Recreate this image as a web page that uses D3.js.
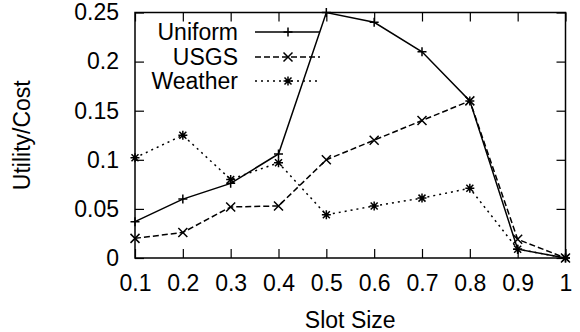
<!DOCTYPE html>
<html lang="en">
<head>
    <title>Utility/Cost vs Slot Size</title>
    <script src="https://d3js.org/d3.v7.min.js"></script>
    <style>
        body { margin: 0; background: white; }
        svg text { font-family: "Liberation Sans", Arial, sans-serif; fill: black; }
    </style>
</head>
<body>
    <svg id="chart"></svg>

    <script>
        var slotSizes = [0.1, 0.2, 0.3, 0.4, 0.5, 0.6, 0.7, 0.8, 0.9, 1];
        var uniform = [0.037, 0.06, 0.076, 0.106, 0.25, 0.24, 0.21, 0.16, 0.009, 0];
        var usgs = [0.02, 0.026, 0.052, 0.053, 0.1, 0.12, 0.14, 0.16, 0.019, 0];
        var weather = [0.102, 0.125, 0.08, 0.097, 0.044, 0.053, 0.061, 0.071, 0.009, 0];
        var xTicks = [0.1, 0.2, 0.3, 0.4, 0.5, 0.6, 0.7, 0.8, 0.9, 1];
        var yTicks = [0, 0.05, 0.1, 0.15, 0.2, 0.25];

        var width = 580, height = 332;
        var margins = { left: 135, top: 12.5, right: 14.5, bottom: 74 };
        var innerW = width - margins.left - margins.right;
        var innerH = height - margins.top - margins.bottom;
        var fontSize = 23;

        var series = [
            { name: "Uniform", values: uniform, dash: null, marker: "plus" },
            { name: "USGS", values: usgs, dash: "6,3", marker: "cross" },
            { name: "Weather", values: weather, dash: "2,4", marker: "star" }
        ];

        var xscale = d3.scaleLinear().domain([0.1, 1]).range([0, innerW]);
        var yscale = d3.scaleLinear().domain([0, 0.25]).range([innerH, 0]);

        var svg = d3.select("#chart")
            .attr("width", width)
            .attr("height", height);

        var g = svg.append("g")
            .attr("transform", "translate(" + margins.left + "," + margins.top + ")");

        // axes, ticks pointing inwards, mirrored on top and right
        var tickLen = 9;
        var axBottom = g.append("g")
            .attr("transform", "translate(0," + innerH + ")")
            .call(d3.axisBottom(xscale).tickValues(xTicks).tickSize(-tickLen).tickPadding(17)
                .tickFormat(d3.format("")));
        var axTop = g.append("g")
            .call(d3.axisTop(xscale).tickValues(xTicks).tickSize(-tickLen).tickFormat(""));
        var axLeft = g.append("g")
            .call(d3.axisLeft(yscale).tickValues(yTicks).tickSize(-tickLen).tickPadding(16)
                .tickFormat(d3.format("")));
        var axRight = g.append("g")
            .attr("transform", "translate(" + innerW + ",0)")
            .call(d3.axisRight(yscale).tickValues(yTicks).tickSize(-tickLen).tickFormat(""));

        [axBottom, axTop, axLeft, axRight].forEach(function (a) {
            a.select(".domain").remove();
            a.selectAll("line").attr("stroke", "black").attr("stroke-width", 1.2);
            a.selectAll("text").attr("font-size", fontSize).attr("fill", "black")
                .attr("font-family", "Liberation Sans, Arial, sans-serif");
        });

        g.append("rect")
            .attr("width", innerW)
            .attr("height", innerH)
            .attr("fill", "none")
            .attr("stroke", "black")
            .attr("stroke-width", 1.5);

        var line = d3.line()
            .x(function (d, i) { return xscale(slotSizes[i]); })
            .y(function (d) { return yscale(d); });

        function drawMarker(sel, type, x, y) {
            var s = 4.5;
            var p = "";
            if (type === "plus" || type === "star") {
                p += "M" + (x - s) + "," + y + "H" + (x + s) + "M" + x + "," + (y - s) + "V" + (y + s);
            }
            if (type === "cross" || type === "star") {
                var c = type === "star" ? 3.5 : 4.5;
                p += "M" + (x - c) + "," + (y - c) + "L" + (x + c) + "," + (y + c) +
                     "M" + (x - c) + "," + (y + c) + "L" + (x + c) + "," + (y - c);
            }
            sel.append("path").attr("d", p).attr("stroke", "black")
                .attr("stroke-width", 1.5).attr("fill", "none");
        }

        series.forEach(function (s) {
            g.append("path")
                .datum(s.values)
                .attr("d", line)
                .attr("fill", "none")
                .attr("stroke", "black")
                .attr("stroke-width", 1.5)
                .attr("stroke-dasharray", s.dash);
            s.values.forEach(function (v, i) {
                drawMarker(g, s.marker, xscale(slotSizes[i]), yscale(v));
            });
        });

        // legend
        var legendY = [32, 57, 81];
        series.forEach(function (s, i) {
            var y = legendY[i];
            svg.append("text")
                .attr("x", 238)
                .attr("y", y)
                .attr("dy", "0.36em")
                .attr("text-anchor", "end")
                .attr("font-size", fontSize)
                .text(s.name);
            svg.append("line")
                .attr("x1", 255).attr("x2", 320)
                .attr("y1", y).attr("y2", y)
                .attr("stroke", "black")
                .attr("stroke-width", 1.5)
                .attr("stroke-dasharray", s.dash);
            drawMarker(svg, s.marker, 288, y);
        });

        svg.append("text")
            .attr("x", margins.left + innerW / 2)
            .attr("y", 328)
            .attr("text-anchor", "middle")
            .attr("font-size", fontSize)
            .text("Slot Size");

        svg.append("text")
            .attr("transform", "translate(30," + (margins.top + innerH / 2) + ") rotate(-90)")
            .attr("text-anchor", "middle")
            .attr("font-size", fontSize)
            .text("Utility/Cost");
    </script>
</body>
</html>
